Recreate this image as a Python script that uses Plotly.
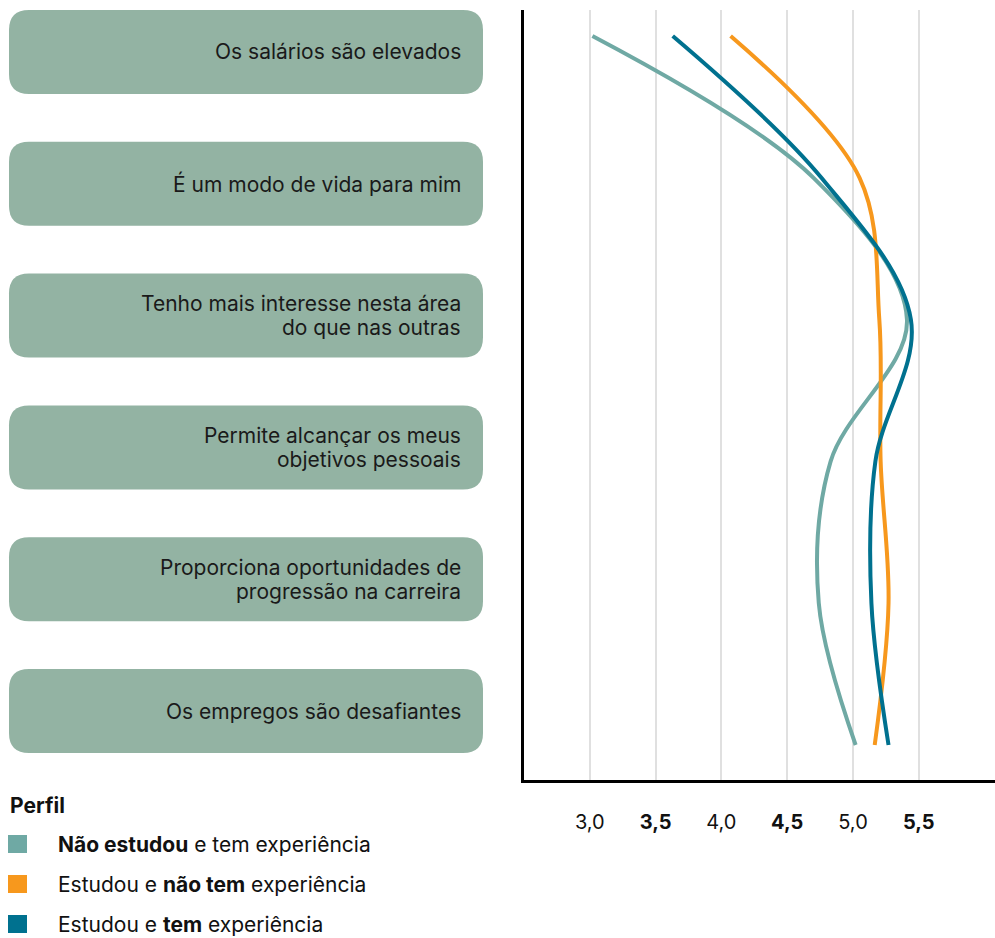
import plotly.graph_objects as go

W, H = 995, 938

categories = [
    "Os salários são elevados",
    "É um modo de vida para mim",
    "Tenho mais interesse nesta área<br>do que nas outras",
    "Permite alcançar os meus<br>objetivos pessoais",
    "Proporciona oportunidades de<br>progressão na carreira",
    "Os empregos são desafiantes",
]
cat_pos = [0, 1, 2, 3, 4, 5]

series_names = [
    "<b>Não estudou</b> e tem experiência",
    "Estudou e <b>não tem</b> experiência",
    "Estudou e <b>tem</b> experiência",
]
nao_estudou_com_exp = [3.02, 4.70, 5.41, 4.83, 4.74, 5.02]
estudou_sem_exp = [4.07, 5.05, 5.20, 5.21, 5.27, 5.165]
estudou_com_exp = [3.63, 4.76, 5.44, 5.17, 5.14, 5.27]
series_values = [nao_estudou_com_exp, estudou_sem_exp, estudou_com_exp]
colors = ["#6FA9A4", "#F7981D", "#00718F"]

tick_vals = [3.0, 3.5, 4.0, 4.5, 5.0, 5.5]
tick_text = ["3,0", "<b>3,5</b>", "4,0", "<b>4,5</b>", "5,0", "<b>5,5</b>"]

FONT = "Inter, Roboto, sans-serif"
FS = 21
FS_TICK = 20

fig = go.Figure()
for name, vals, col in zip(series_names, series_values, colors):
    fig.add_trace(go.Scatter(
        x=vals, y=cat_pos, mode="lines", name=name,
        line=dict(color=col, width=4, shape="spline", smoothing=1.0),
        showlegend=False, hoverinfo="x+name",
    ))

# pixel helpers (layout only)
def px(x):
    return x / W

def py(y):
    return 1 - y / H

# plot area in pixels
left, right, top, bottom = 524, 995, 10, 780

shapes = []
annotations = []

# label boxes
box_x0, box_x1 = 9, 483
box_h = 84
box_step = 131.8
r = 20
line_pitch = 23.7
for i, cat in enumerate(categories):
    y0 = 10 + i * box_step
    y1 = y0 + box_h
    X0, X1 = px(box_x0), px(box_x1)
    rx, ry = r / W, r / H
    Y0, Y1 = py(y0), py(y1)
    path = (
        f"M {X0+rx},{Y0} L {X1-rx},{Y0} Q {X1},{Y0} {X1},{Y0-ry} "
        f"L {X1},{Y1+ry} Q {X1},{Y1} {X1-rx},{Y1} "
        f"L {X0+rx},{Y1} Q {X0},{Y1} {X0},{Y1+ry} "
        f"L {X0},{Y0-ry} Q {X0},{Y0} {X0+rx},{Y0} Z"
    )
    shapes.append(dict(type="path", path=path, xref="paper", yref="paper",
                       fillcolor="#93B3A3", line=dict(width=0), layer="below"))
    lines = cat.split("<br>")
    cy = (y0 + y1) / 2
    n = len(lines)
    for k, ln in enumerate(lines):
        ly = cy + (k - (n - 1) / 2) * line_pitch
        annotations.append(dict(
            x=px(463), y=py(ly), xref="paper", yref="paper",
            text=ln, showarrow=False, xanchor="right", yanchor="middle",
            align="right", font=dict(family=FONT, size=FS, color="#1a1a1a"),
        ))

# legend
annotations.append(dict(
    x=px(8), y=py(805), xref="paper", yref="paper", text="<b>Perfil</b>",
    showarrow=False, xanchor="left", yanchor="middle",
    font=dict(family=FONT, size=FS, color="#111111"),
))
leg_y = [844, 884, 924]
for name, col, ly in zip(series_names, colors, leg_y):
    shapes.append(dict(type="rect", xref="paper", yref="paper",
                       x0=px(8), x1=px(27), y0=py(ly - 9), y1=py(ly + 9),
                       fillcolor=col, line=dict(width=0)))
    annotations.append(dict(
        x=px(56), y=py(ly), xref="paper", yref="paper", text=name,
        showarrow=False, xanchor="left", yanchor="middle",
        font=dict(family=FONT, size=FS, color="#111111"),
    ))

y_top_val = 0 - (36 - top) * 5 / 709
y_bot_val = 5 + (bottom - 745) * 5 / 709

fig.update_layout(
    width=W, height=H,
    margin=dict(l=0, r=0, t=0, b=0),
    paper_bgcolor="white", plot_bgcolor="white",
    font=dict(family=FONT, size=FS, color="#111111"),
    shapes=shapes, annotations=annotations,
    xaxis=dict(
        domain=[left / W, 1], range=[2.5, 2.5 + (right - left) / 131.6],
        tickvals=tick_vals, ticktext=tick_text,
        showgrid=True, gridcolor="#E0E0E0", gridwidth=1.5,
        showline=True, linecolor="black", linewidth=3,
        ticks="outside", ticklen=22, tickcolor="rgba(0,0,0,0)",
        tickfont=dict(family=FONT, size=FS_TICK, color="#111111"),
        zeroline=False, fixedrange=True,
    ),
    yaxis=dict(
        domain=[1 - bottom / H, 1 - top / H],
        range=[y_bot_val, y_top_val],
        showgrid=False, showticklabels=False, ticks="",
        showline=True, linecolor="black", linewidth=2.5,
        zeroline=False, fixedrange=True,
    ),
    showlegend=False,
)

fig.write_html("out.html")
